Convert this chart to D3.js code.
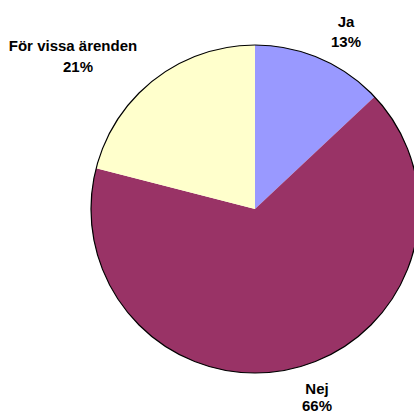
<!DOCTYPE html>
<html><head><meta charset="utf-8">
<script src="https://cdn.jsdelivr.net/npm/d3@7"></script>
<style>body{margin:0;background:#fff}svg{display:block}</style>
</head><body>
<script>
const categories = ["Ja", "Nej", "För vissa ärenden"];
const values = [13, 66, 21];
const colors = ["#9999FF", "#993366", "#FFFFCC"];
// label anchor positions: [nameX, nameY, pctX, pctY]
const labelPos = [[346, 27, 346, 47], [317, 394, 317, 411], [73, 51, 78, 72]];

const W = 414, H = 414, cx = 255, cy = 209, R = 164;
const svg = d3.select("body").append("svg").attr("width", W).attr("height", H);
const pie = d3.pie().sort(null).value(d => d)(values);
const arc = d3.arc().innerRadius(0).outerRadius(R);
const g = svg.append("g").attr("transform", `translate(${cx},${cy})`);
g.selectAll("path").data(pie).join("path")
  .attr("d", arc).attr("fill", (d, i) => colors[i])
  .attr("stroke", "none");
g.append("circle").attr("r", R).attr("fill", "none").attr("stroke", "#000").attr("stroke-width", 1.2);

const total = d3.sum(values);
categories.forEach((c, i) => {
  const t = svg.append("text").attr("text-anchor", "middle")
    .attr("font-family", "Liberation Sans, Arial, sans-serif")
    .attr("font-weight", "bold").attr("font-size", 15).attr("fill", "#000");
  t.append("tspan").attr("x", labelPos[i][0]).attr("y", labelPos[i][1]).text(c);
  t.append("tspan").attr("x", labelPos[i][2]).attr("y", labelPos[i][3])
    .text(Math.round(values[i] / total * 100) + "%");
});
</script>
</body></html>
